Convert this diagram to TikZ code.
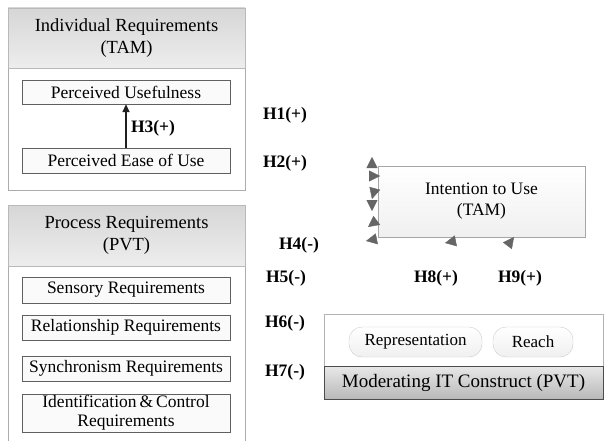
\documentclass[tikz,border=0pt]{standalone}
\usepackage{fontspec}
\setmainfont{Liberation Serif}
\usetikzlibrary{arrows.meta,calc}
\begin{document}
\begin{tikzpicture}[x=1pt,y=-1pt,
  hdr/.style={draw=gray!55, top color=gray!32, bottom color=gray!14, align=center,
    font=\fontsize{18.5}{22}\selectfont, inner sep=0pt},
  panel/.style={draw=gray!65, fill=white, inner sep=0pt},
  item/.style={draw=gray!75!black, fill=gray!4, align=center, inner sep=0pt,
    minimum width=208pt, font=\fontsize{17.5}{19}\selectfont},
  hyp/.style={font=\bfseries\fontsize{17.5}{18}\selectfont, inner sep=0pt},
  tipmark/.style={draw=gray!80!black, line width=0.4pt,
    -{Triangle[length=11pt,width=11pt]}, fill=gray!80!black},
  pill/.style={draw=gray!40, rounded corners=13pt, top color=white, bottom color=gray!12,
    minimum height=30pt, inner sep=0pt, font=\fontsize{17}{18}\selectfont},
  bar/.style={draw=gray!60!black, top color=gray!18, bottom color=gray!55, inner sep=0pt,
    minimum height=33pt, font=\fontsize{19}{20}\selectfont}
]
\useasboundingbox (0,0) rectangle (607,441);

% Individual requirements
\node[panel, minimum width=237pt, minimum height=122pt] (indbody) at (126.5,129) {};
\node[hdr, minimum width=237pt, minimum height=60pt] (indhdr) at (126.5,38)
  {Individual Requirements\\(TAM)};
\node[item, minimum height=24pt] (pu) at (126,92) {Perceived Usefulness};
\node[item, minimum height=25pt] (peou) at (126,160.5) {Perceived Ease of Use};
\draw[draw=gray!25!black, line width=1.5pt, -{Triangle[length=8pt,width=7pt]}] (peou.north) -- (pu.south);
\node[hyp] (h3) at (153,128) {H3(+)};

% Process requirements
\node[panel, minimum width=237pt, minimum height=180pt] (procbody) at (126.5,356) {};
\node[hdr, minimum width=237pt, minimum height=61pt] (prochdr) at (126.5,235.5)
  {Process Requirements\\(PVT)};
\node[item, minimum height=26pt] (sens) at (126,290) {Sensory Requirements};
\node[item, minimum height=25pt] (rel) at (126,327.5) {Relationship Requirements};
\node[item, minimum height=25pt] (sync) at (126,368.5) {Synchronism Requirements};
\node[item, minimum height=38pt] (ident) at (126,413)
  {Identification\,\&\,Control\\Requirements};

% Intention to use
\node[draw=gray!70, top color=white, bottom color=gray!12, minimum width=207pt,
  minimum height=71pt, align=center, inner sep=0pt, font=\fontsize{17.5}{21}\selectfont]
  (int) at (481.5,201.5) {Intention to Use\\(TAM)};

% arrow heads remaining at the target
\coordinate (t1) at (372,157);
\coordinate (t2) at (380,176);
\coordinate (t3) at (372,199);
\coordinate (t4) at (372,211);
\coordinate (t5) at (368,227);
\coordinate (t6) at (366,241);
\coordinate (t7) at (445,243);
\coordinate (t8) at (514,237);
\draw[tipmark] ($(t1)+(0,3)$) -- (t1);
\draw[tipmark] ($(t2)+(-3,0)$) -- (t2);
\draw[tipmark] ($(t3)+(0.8,-3)$) -- (t3);
\draw[tipmark] ($(t4)+(0,-3)$) -- (t4);
\draw[tipmark] ($(t5)+(2.4,-1.8)$) -- (t5);
\draw[tipmark] ($(t6)+(3,-0.6)$) -- (t6);
\draw[tipmark] ($(t7)+(3,-0.6)$) -- (t7);
\draw[tipmark] ($(t8)+(-1.8,2.4)$) -- (t8);

% hypothesis labels
\node[hyp] (h1) at (285,115) {H1(+)};
\node[hyp] (h2) at (285,163) {H2(+)};
\node[hyp] (h4) at (299,245) {H4(-)};
\node[hyp] (h5) at (286,278) {H5(-)};
\node[hyp] (h6) at (285,323) {H6(-)};
\node[hyp] (h7) at (285,372) {H7(-)};
\node[hyp] (h8) at (436,278) {H8(+)};
\node[hyp] (h9) at (520,278) {H9(+)};

% Moderating construct
\node[draw=gray!60, fill=white, minimum width=279pt, minimum height=85pt, inner sep=0pt]
  (modbox) at (463.5,356.5) {};
\node[bar, minimum width=279pt] (mod) at (463.5,382.5) {Moderating IT Construct (PVT)};
\node[pill, minimum width=133pt] (repr) at (415.5,342) {Representation};
\node[pill, minimum width=80pt] (reach) at (533,342) {Reach};
\end{tikzpicture}
\end{document}
